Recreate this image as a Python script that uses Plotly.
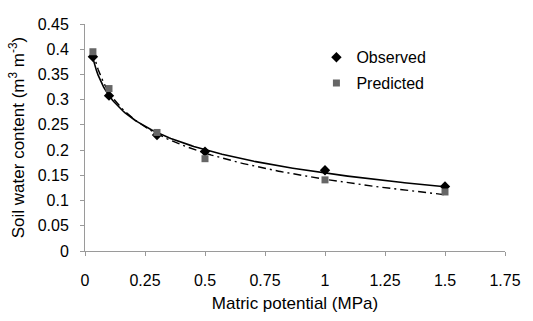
import numpy as np
import plotly.graph_objects as go

potential = [0.033, 0.1, 0.3, 0.5, 1.0, 1.5]
observed = [0.385, 0.308, 0.230, 0.197, 0.160, 0.128]
predicted = [0.395, 0.322, 0.235, 0.183, 0.141, 0.117]
x_ticks = [0, 0.25, 0.5, 0.75, 1, 1.25, 1.5, 1.75]
x_labels = ["0", "0.25", "0.5", "0.75", "1", "1.25", "1.5", "1.75"]
y_ticks = [0, 0.05, 0.1, 0.15, 0.2, 0.25, 0.3, 0.35, 0.4, 0.45]
y_labels = ["0", "0.05", "0.1", "0.15", "0.2", "0.25", "0.3", "0.35", "0.4", "0.45"]


def log_fit(x, y):
    a, b = np.polyfit(np.log(x), y, 1)
    xs = np.linspace(min(x), max(x), 200)
    return xs, a * np.log(xs) + b


fig = go.Figure()
xo, yo = log_fit(potential, observed)
xp, yp = log_fit(potential, predicted)
fig.add_trace(go.Scatter(x=xo, y=yo, mode="lines", line=dict(color="black", width=1.6),
                         showlegend=False, hoverinfo="skip"))
fig.add_trace(go.Scatter(x=xp, y=yp, mode="lines",
                         line=dict(color="black", width=1.4, dash="8px,4px,2px,4px"),
                         showlegend=False, hoverinfo="skip"))
fig.add_trace(go.Scatter(x=potential, y=observed, mode="markers", name="Observed",
                         legendgroup="o",
                         marker=dict(symbol="diamond", size=8, color="black")))
fig.add_trace(go.Scatter(x=potential, y=predicted, mode="markers", name="Predicted",
                         legendgroup="p",
                         marker=dict(symbol="square", size=7, color="#666666")))

font = "Liberation Sans, Arial, sans-serif"
axis_common = dict(showline=True, linecolor="#9a9a9a", linewidth=1, ticks="outside",
                   tickcolor="#9a9a9a", ticklen=4, showgrid=False, zeroline=False,
                   tickfont=dict(size=16), ticklabeloverflow="allow")
fig.update_layout(
    width=533, height=321,
    margin=dict(l=85, r=18, t=24, b=62),
    paper_bgcolor="white", plot_bgcolor="white",
    font=dict(family=font, size=16, color="black"),
    legend=dict(x=0.551, y=0.928, xanchor="left", yanchor="top",
                traceorder="grouped", tracegroupgap=2,
                bgcolor="rgba(0,0,0,0)", font=dict(size=16), itemwidth=30),
    xaxis=dict(range=[0, 1.75], tickvals=x_ticks, ticktext=x_labels,
               ticklabelstandoff=11,
               title=dict(text="Matric potential (MPa)", font=dict(size=17), standoff=8),
               **axis_common),
    yaxis=dict(range=[0, 0.45], tickvals=y_ticks, ticktext=y_labels,
               ticklabelstandoff=8,
               title=dict(text="Soil water content (m<sup>3</sup> m<sup>-3</sup>)",
                          font=dict(size=17), standoff=8),
               **axis_common),
)
fig.write_html("out.html",
               config={"displayModeBar": False},
               post_script="document.body.style.margin='0px';"
                           "document.documentElement.style.margin='0px';")
